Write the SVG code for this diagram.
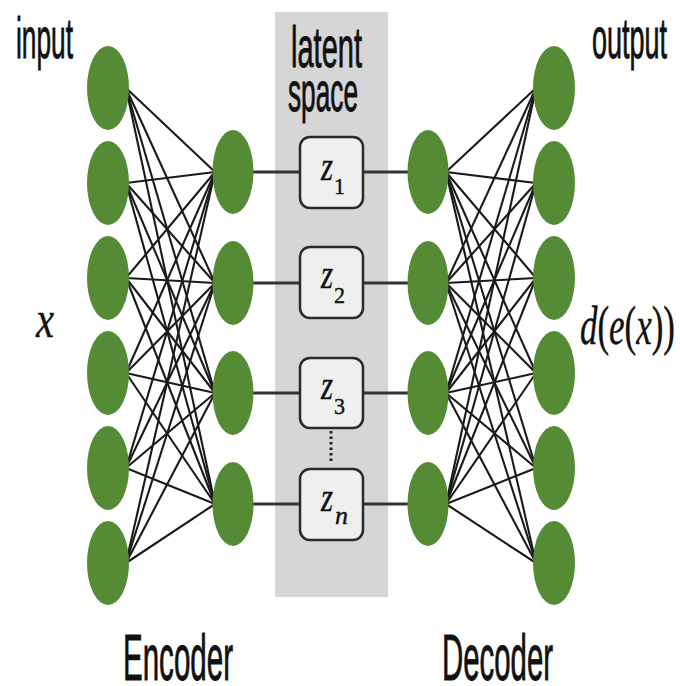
<svg xmlns="http://www.w3.org/2000/svg" width="680" height="686" viewBox="0 0 680 686">
<style>
.node{fill:#558b35;}
.w{stroke:#1a1a1a;stroke-width:2.1;fill:none;}
.h{stroke:#333;stroke-width:3.2;fill:none;}
.zbox{fill:#efefef;stroke:#2a2a2a;stroke-width:2.5;}
.sans{font-family:"Liberation Sans",Arial,sans-serif;fill:#111;stroke:#111;stroke-width:0.9;}
.math{font-family:"Liberation Serif","Times New Roman",serif;font-style:italic;fill:#111;stroke:#111;stroke-width:0.4;}
.up{font-style:normal;}
</style>
<rect id="latent-bg" x="275" y="12" width="113" height="585" fill="#d6d6d6"/>
<g id="connectors">
<g id="encoder-weights">
<line class="w" x1="126" y1="88" x2="215" y2="172"/><line class="w" x1="126" y1="88" x2="215" y2="283"/><line class="w" x1="126" y1="88" x2="215" y2="393"/><line class="w" x1="126" y1="88" x2="215" y2="504"/>
<line class="w" x1="126" y1="183" x2="215" y2="172"/><line class="w" x1="126" y1="183" x2="215" y2="283"/><line class="w" x1="126" y1="183" x2="215" y2="393"/><line class="w" x1="126" y1="183" x2="215" y2="504"/>
<line class="w" x1="126" y1="278" x2="215" y2="172"/><line class="w" x1="126" y1="278" x2="215" y2="283"/><line class="w" x1="126" y1="278" x2="215" y2="393"/><line class="w" x1="126" y1="278" x2="215" y2="504"/>
<line class="w" x1="126" y1="373" x2="215" y2="172"/><line class="w" x1="126" y1="373" x2="215" y2="283"/><line class="w" x1="126" y1="373" x2="215" y2="393"/><line class="w" x1="126" y1="373" x2="215" y2="504"/>
<line class="w" x1="126" y1="468" x2="215" y2="172"/><line class="w" x1="126" y1="468" x2="215" y2="283"/><line class="w" x1="126" y1="468" x2="215" y2="393"/><line class="w" x1="126" y1="468" x2="215" y2="504"/>
<line class="w" x1="126" y1="563" x2="215" y2="172"/><line class="w" x1="126" y1="563" x2="215" y2="283"/><line class="w" x1="126" y1="563" x2="215" y2="393"/><line class="w" x1="126" y1="563" x2="215" y2="504"/>
</g>
<g id="decoder-weights">
<line class="w" x1="446" y1="172" x2="536" y2="88"/><line class="w" x1="446" y1="172" x2="536" y2="183"/><line class="w" x1="446" y1="172" x2="536" y2="278"/><line class="w" x1="446" y1="172" x2="536" y2="373"/><line class="w" x1="446" y1="172" x2="536" y2="468"/><line class="w" x1="446" y1="172" x2="536" y2="563"/>
<line class="w" x1="446" y1="283" x2="536" y2="88"/><line class="w" x1="446" y1="283" x2="536" y2="183"/><line class="w" x1="446" y1="283" x2="536" y2="278"/><line class="w" x1="446" y1="283" x2="536" y2="373"/><line class="w" x1="446" y1="283" x2="536" y2="468"/><line class="w" x1="446" y1="283" x2="536" y2="563"/>
<line class="w" x1="446" y1="393" x2="536" y2="88"/><line class="w" x1="446" y1="393" x2="536" y2="183"/><line class="w" x1="446" y1="393" x2="536" y2="278"/><line class="w" x1="446" y1="393" x2="536" y2="373"/><line class="w" x1="446" y1="393" x2="536" y2="468"/><line class="w" x1="446" y1="393" x2="536" y2="563"/>
<line class="w" x1="446" y1="504" x2="536" y2="88"/><line class="w" x1="446" y1="504" x2="536" y2="183"/><line class="w" x1="446" y1="504" x2="536" y2="278"/><line class="w" x1="446" y1="504" x2="536" y2="373"/><line class="w" x1="446" y1="504" x2="536" y2="468"/><line class="w" x1="446" y1="504" x2="536" y2="563"/>
</g>
<g id="latent-links">
<line class="h" x1="250" y1="172" x2="300" y2="172"/><line class="h" x1="363" y1="172" x2="410" y2="172"/>
<line class="h" x1="250" y1="283" x2="300" y2="283"/><line class="h" x1="363" y1="283" x2="410" y2="283"/>
<line class="h" x1="250" y1="393" x2="300" y2="393"/><line class="h" x1="363" y1="393" x2="410" y2="393"/>
<line class="h" x1="250" y1="504" x2="300" y2="504"/><line class="h" x1="363" y1="504" x2="410" y2="504"/>
</g>
<line id="ellipsis" x1="331" y1="431" x2="331" y2="464" stroke="#222" stroke-width="3" stroke-dasharray="2.5 3"/>
</g>
<g id="input-layer">
<ellipse id="in1" class="node" cx="108" cy="88" rx="21" ry="42"/>
<ellipse id="in2" class="node" cx="108" cy="183" rx="21" ry="42"/>
<ellipse id="in3" class="node" cx="108" cy="278" rx="21" ry="42"/>
<ellipse id="in4" class="node" cx="108" cy="373" rx="21" ry="42"/>
<ellipse id="in5" class="node" cx="108" cy="468" rx="21" ry="42"/>
<ellipse id="in6" class="node" cx="108" cy="563" rx="21" ry="42"/>
</g>
<g id="encoder-layer">
<ellipse id="enc1" class="node" cx="233" cy="172" rx="20.5" ry="42"/>
<ellipse id="enc2" class="node" cx="233" cy="283" rx="20.5" ry="42"/>
<ellipse id="enc3" class="node" cx="233" cy="393" rx="20.5" ry="42"/>
<ellipse id="enc4" class="node" cx="233" cy="504" rx="20.5" ry="42"/>
</g>
<g id="decoder-layer">
<ellipse id="dec1" class="node" cx="428" cy="172" rx="20.5" ry="42"/>
<ellipse id="dec2" class="node" cx="428" cy="283" rx="20.5" ry="42"/>
<ellipse id="dec3" class="node" cx="428" cy="393" rx="20.5" ry="42"/>
<ellipse id="dec4" class="node" cx="428" cy="504" rx="20.5" ry="42"/>
</g>
<g id="output-layer">
<ellipse id="out1" class="node" cx="554" cy="88" rx="21" ry="42"/>
<ellipse id="out2" class="node" cx="554" cy="183" rx="21" ry="42"/>
<ellipse id="out3" class="node" cx="554" cy="278" rx="21" ry="42"/>
<ellipse id="out4" class="node" cx="554" cy="373" rx="21" ry="42"/>
<ellipse id="out5" class="node" cx="554" cy="468" rx="21" ry="42"/>
<ellipse id="out6" class="node" cx="554" cy="563" rx="21" ry="42"/>
</g>
<g id="z1">
<rect class="zbox" x="300" y="137" width="63" height="71" rx="10"/>
<text class="math" x="321" y="180" font-size="40" textLength="12" lengthAdjust="spacingAndGlyphs">z</text>
<text class="math up" x="334" y="194" font-size="24" textLength="11" lengthAdjust="spacingAndGlyphs">1</text>
</g>
<g id="z2">
<rect class="zbox" x="300" y="247" width="63" height="71" rx="10"/>
<text class="math" x="321" y="288" font-size="40" textLength="12" lengthAdjust="spacingAndGlyphs">z</text>
<text class="math up" x="334" y="303" font-size="24" textLength="11" lengthAdjust="spacingAndGlyphs">2</text>
</g>
<g id="z3">
<rect class="zbox" x="300" y="358" width="63" height="70" rx="10"/>
<text class="math" x="321" y="399" font-size="40" textLength="12" lengthAdjust="spacingAndGlyphs">z</text>
<text class="math up" x="334" y="414" font-size="24" textLength="11" lengthAdjust="spacingAndGlyphs">3</text>
</g>
<g id="zn">
<rect class="zbox" x="300" y="469" width="63" height="71" rx="10"/>
<text class="math" x="321" y="511" font-size="40" textLength="12" lengthAdjust="spacingAndGlyphs">z</text>
<text class="math" x="335" y="524" font-size="26" textLength="13" lengthAdjust="spacingAndGlyphs">n</text>
</g>
<g id="labels">
<text class="sans" x="16" y="58" font-size="58" textLength="57" lengthAdjust="spacingAndGlyphs">input</text>
<text class="sans" x="291" y="67" font-size="57" textLength="71" lengthAdjust="spacingAndGlyphs">latent</text>
<text class="sans" x="288" y="111" font-size="55" textLength="70" lengthAdjust="spacingAndGlyphs">space</text>
<text class="sans" x="592" y="58" font-size="57" textLength="75" lengthAdjust="spacingAndGlyphs">output</text>
<text class="math" x="36" y="337" font-size="52" textLength="18" lengthAdjust="spacingAndGlyphs">x</text>
<text class="math" x="580" y="344" font-size="54" textLength="95" lengthAdjust="spacingAndGlyphs">d<tspan class="up">(</tspan>e<tspan class="up">(</tspan>x<tspan class="up">))</tspan></text>
<text class="sans" x="123" y="680" font-size="64" textLength="110" lengthAdjust="spacingAndGlyphs">Encoder</text>
<text class="sans" x="442" y="680" font-size="64" textLength="111" lengthAdjust="spacingAndGlyphs">Decoder</text>
</g>
</svg>
